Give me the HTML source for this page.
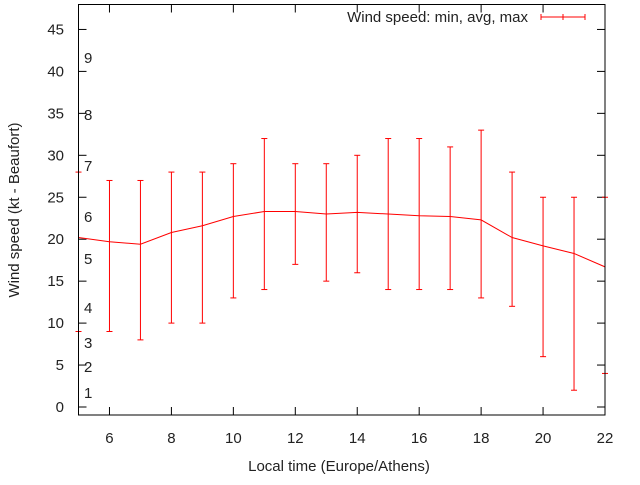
<!DOCTYPE html>
<html><head><meta charset="utf-8"><style>body{margin:0;background:#fff}svg{font-family:"Liberation Sans",sans-serif}</style></head>
<body>
<svg id="c" width="640" height="480" viewBox="0 0 640 480"></svg>
<script>
const hours=[5,6,7,8,9,10,11,12,13,14,15,16,17,18,19,20,21,22];
const avgVals=[20.2,19.7,19.4,20.8,21.6,22.7,23.3,23.3,23.0,23.2,23.0,22.8,22.7,22.3,20.2,19.2,18.3,16.7];
const minVals=[9,9,8,10,10,13,14,17,15,16,14,14,14,13,12,6,2,4];
const maxVals=[28,27,27,28,28,29,32,29,29,30,32,32,31,33,28,25,25,25];
const yTicks=[0,5,10,15,20,25,30,35,40,45];
const xTicks=[6,8,10,12,14,16,18,20,22];
const beaufort=[["1",398],["2",372],["3",348],["4",313],["5",264],["6",222],["7",171],["8",120],["9",63]];
const L=78.5,R=605,T=4.5,B=415;
const X=h=>L+(h-5)*(R-L)/17;
const Y=v=>407-8.39*v;
const svg=document.getElementById('c');const NS='http://www.w3.org/2000/svg';
function mk(t,a,p){const e=document.createElementNS(NS,t);for(const k in a)e.setAttribute(k,a[k]);(p||svg).appendChild(e);return e;}
function ln(x1,y1,x2,y2,c,n){const e=mk('line',{x1,y1,x2,y2,stroke:c,'stroke-width':1});return e;}
function tx(x,y,s,anchor,n){const e=mk('text',{x,y,'font-size':15,fill:'#222','text-anchor':anchor});e.textContent=s;return e;}
yTicks.forEach(v=>{const y=Y(v);ln(L,y,L+8,y,'#000','y-tick');ln(R,y,R-8,y,'#000','y-tick-right');tx(64,y+5,String(v),'end','y-tick-label');});
xTicks.forEach(h=>{const x=X(h);ln(x,B,x,B-8,'#000','x-tick');ln(x,T,x,T+8,'#000','x-tick-top');tx(x,443,String(h),'middle','x-tick-label');});
beaufort.forEach(b=>tx(84,b[1],b[0],'start','beaufort-label'));
const g=mk('g',{});
hours.forEach((h,i)=>{const x=X(h);const a=ln(x,Y(minVals[i]),x,Y(maxVals[i]),'#f00','error-bar');g.appendChild(a);
 g.appendChild(ln(x-3,Y(minVals[i]),x+3,Y(minVals[i]),'#f00','error-min-cap'));
 g.appendChild(ln(x-3,Y(maxVals[i]),x+3,Y(maxVals[i]),'#f00','error-max-cap'));});
const p=mk('polyline',{points:hours.map((h,i)=>X(h)+','+Y(avgVals[i])).join(' '),fill:'none',stroke:'#f00','stroke-width':1});

const fr=mk('rect',{x:L,y:T,width:R-L,height:B-T,fill:'none',stroke:'#000','stroke-width':1});

tx(528,22,'Wind speed: min, avg, max','end','legend-label');
ln(541,17,585,17,'#f00','legend-line');ln(541,14,541,20,'#f00','legend-cap');ln(585,14,585,20,'#f00','legend-cap');ln(563,14,563,20,'#f00','legend-cap');
tx(339,471,'Local time (Europe/Athens)','middle','x-axis-title');
const yt=tx(19,210,'Wind speed (kt - Beaufort)','middle','y-axis-title');yt.setAttribute('transform','rotate(-90 19 210)');
</script>
</body></html>
